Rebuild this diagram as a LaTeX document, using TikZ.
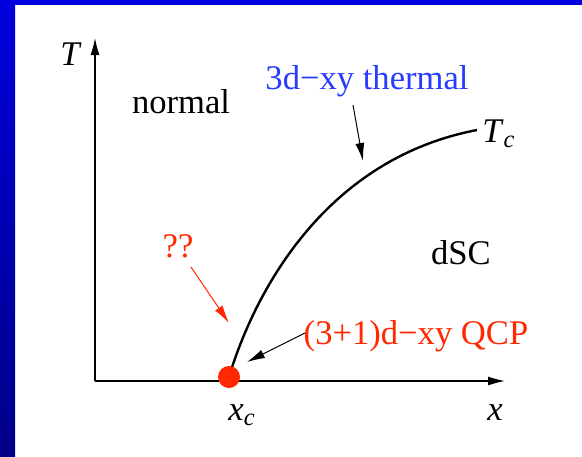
\documentclass[tikz,border=0pt]{standalone}
\usepackage{fontspec}
\setmainfont{Liberation Serif}[ItalicFont={Liberation Serif Italic}]
\usetikzlibrary{arrows.meta}

\definecolor{qcpred}{RGB}{255,40,0}
\definecolor{thermblue}{RGB}{40,60,255}
\definecolor{frameblue}{RGB}{0,0,222}
\definecolor{framedark}{RGB}{0,0,135}

\newcommand{\subc}{\raisebox{-2.5pt}{\fontsize{12.2}{12}\selectfont\itshape c}}

\tikzset{
  lbl/.style={anchor=base, inner sep=0pt, font=\fontsize{17.3}{20}\selectfont},
  axis/.style={line width=0.6pt, -{Latex[length=8.5pt,width=4.5pt]}},
  pointer/.style={line width=0.5pt, -{Latex[length=9pt,width=4.5pt]}},
}

\begin{document}
\begin{tikzpicture}[x=0.5pt, y=-0.5pt]
            % frame
            \useasboundingbox (0,0) rectangle (582,456);
            \fill[white] (0,0) rectangle (582,456);
            \fill[frameblue] (0,0) rectangle (582,5);
            \shade[top color=frameblue, bottom color=framedark] (0,0) rectangle (15,456);

            \coordinate (O) at (95,381);
            \coordinate (Ttip) at (95,38);
            \coordinate (xtip) at (505,381);
            \coordinate (QCP) at (229,377);
            \coordinate (Tend) at (477,130); % end of T_c line

            \draw[axis] (O) -- (Ttip);
            \draw[axis] (O) -- (xtip);

            % transition line
            \draw[line width=1.2pt] (QCP) .. controls (252,300) and (320,160) .. (Tend);
            \fill[qcpred] (QCP) circle (5.5pt);

            \node[lbl] (Tlab) at (71,65) {\textit{T}};
            \node[lbl] (xlab) at (495,420) {\textit{x}};
            \node[lbl, anchor=base west] (xclab) at (228,420) {\textit{x}\subc};
            \node[lbl, anchor=base west] (Tclab) at (482,142) {\textit{T}\subc};

            \node[lbl] (normal) at (181,113) {normal};
            \node[lbl] (dsc) at (461,264) {dSC};
            \node[lbl, text=thermblue] (thermal) at (367,89) {3d−xy thermal};
            \node[lbl, text=qcpred] (qq) at (178,257) {??};
            \node[lbl, text=qcpred] (qcplab) at (416,344) {(3+1)d−xy QCP};

            % pointers
            \coordinate (thermtail) at (353,105);
            \coordinate (thermtip) at (363,161);
            \coordinate (qqtail) at (191,267);
            \coordinate (qqtip) at (229,323);
            \coordinate (qcptail) at (305,333);
            \coordinate (qcptip) at (247,362);

            \draw[pointer] (thermtail) -- (thermtip);
            \draw[pointer, qcpred] (qqtail) -- (qqtip);
            \draw[pointer] (qcptail) -- (qcptip);
        \end{tikzpicture}
\end{document}
